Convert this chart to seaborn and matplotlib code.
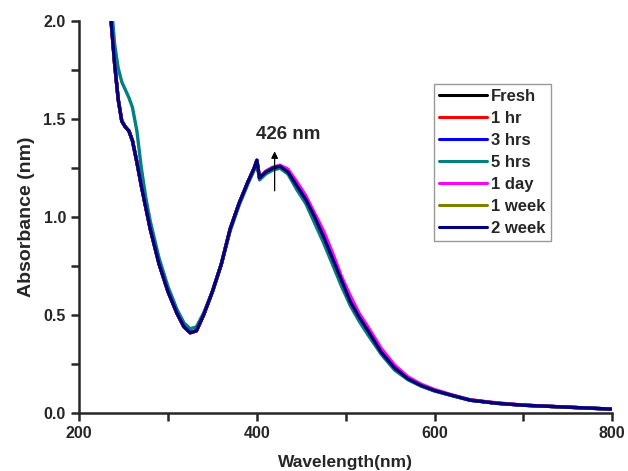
import numpy as np
import pandas as pd
import seaborn as sns
import matplotlib.pyplot as plt
from matplotlib.ticker import MultipleLocator

# wavelength grid (nm)
wavelength = [236, 240, 244, 248, 252, 256, 260, 265, 270, 275, 280, 290, 300, 310, 318,
              325, 332, 340, 350, 360, 370, 380, 390, 397, 400, 403, 410, 418, 426, 435,
              445, 455, 465, 475, 485, 495, 505, 515, 525, 540, 555, 570, 585, 600, 620,
              640, 670, 700, 750, 800]

fresh = [2.00, 1.78, 1.60, 1.49, 1.46, 1.44, 1.39, 1.28, 1.16, 1.05, 0.94, 0.76, 0.62, 0.51, 0.44,
         0.41, 0.42, 0.50, 0.62, 0.76, 0.94, 1.07, 1.18, 1.25, 1.29, 1.20, 1.23, 1.25, 1.26, 1.23,
         1.16, 1.09, 1.00, 0.90, 0.79, 0.68, 0.57, 0.49, 0.42, 0.31, 0.23, 0.175, 0.14, 0.115, 0.09,
         0.066, 0.05, 0.04, 0.03, 0.02]
hr_1 = [2.00, 1.78, 1.60, 1.49, 1.46, 1.44, 1.39, 1.28, 1.16, 1.05, 0.94, 0.76, 0.62, 0.51, 0.44,
        0.41, 0.42, 0.50, 0.62, 0.76, 0.94, 1.07, 1.18, 1.25, 1.29, 1.20, 1.23, 1.25, 1.26, 1.235,
        1.165, 1.095, 1.005, 0.905, 0.795, 0.685, 0.575, 0.495, 0.425, 0.315, 0.235, 0.178, 0.142, 0.117, 0.09,
        0.067, 0.051, 0.04, 0.03, 0.02]
hrs_3 = [2.00, 1.78, 1.60, 1.49, 1.46, 1.44, 1.39, 1.28, 1.16, 1.05, 0.94, 0.76, 0.62, 0.51, 0.44,
         0.41, 0.42, 0.50, 0.62, 0.76, 0.94, 1.07, 1.18, 1.25, 1.29, 1.20, 1.23, 1.25, 1.26, 1.23,
         1.16, 1.09, 1.00, 0.90, 0.79, 0.68, 0.57, 0.49, 0.42, 0.31, 0.23, 0.175, 0.14, 0.115, 0.09,
         0.066, 0.05, 0.04, 0.03, 0.02]
hrs_5 = [2.10, 1.88, 1.76, 1.69, 1.65, 1.61, 1.56, 1.44, 1.25, 1.10, 0.98, 0.79, 0.645, 0.53, 0.46,
         0.43, 0.44, 0.51, 0.62, 0.76, 0.93, 1.06, 1.17, 1.24, 1.28, 1.19, 1.22, 1.24, 1.25, 1.22,
         1.14, 1.07, 0.97, 0.87, 0.76, 0.65, 0.55, 0.47, 0.40, 0.30, 0.22, 0.17, 0.137, 0.112, 0.088,
         0.065, 0.05, 0.04, 0.03, 0.02]
day_1 = [2.00, 1.78, 1.60, 1.49, 1.46, 1.44, 1.39, 1.28, 1.16, 1.05, 0.94, 0.76, 0.62, 0.51, 0.44,
         0.41, 0.42, 0.50, 0.62, 0.76, 0.94, 1.07, 1.18, 1.25, 1.29, 1.20, 1.235, 1.255, 1.265, 1.245,
         1.18, 1.11, 1.02, 0.93, 0.82, 0.70, 0.60, 0.51, 0.44, 0.33, 0.245, 0.185, 0.147, 0.12, 0.092,
         0.068, 0.052, 0.041, 0.03, 0.02]
week_1 = [2.00, 1.78, 1.60, 1.49, 1.46, 1.44, 1.39, 1.28, 1.16, 1.05, 0.94, 0.76, 0.62, 0.51, 0.44,
          0.41, 0.42, 0.50, 0.62, 0.76, 0.94, 1.07, 1.18, 1.25, 1.29, 1.20, 1.23, 1.25, 1.26, 1.23,
          1.16, 1.09, 1.00, 0.90, 0.79, 0.68, 0.57, 0.49, 0.42, 0.31, 0.23, 0.175, 0.14, 0.115, 0.09,
          0.066, 0.05, 0.04, 0.03, 0.02]
week_2 = [2.00, 1.78, 1.60, 1.49, 1.46, 1.44, 1.39, 1.28, 1.16, 1.05, 0.94, 0.76, 0.62, 0.51, 0.44,
          0.41, 0.42, 0.50, 0.62, 0.76, 0.94, 1.07, 1.18, 1.25, 1.29, 1.20, 1.23, 1.25, 1.26, 1.23,
          1.16, 1.09, 1.00, 0.90, 0.79, 0.68, 0.57, 0.49, 0.42, 0.31, 0.23, 0.175, 0.14, 0.115, 0.09,
          0.066, 0.05, 0.04, 0.03, 0.02]

labels = ['Fresh', '1 hr', '3 hrs', '5 hrs', '1 day', '1 week', '2 week']
colors = ['black', 'red', 'blue', '#008080', 'magenta', '#808000', '#000080']
series = [fresh, hr_1, hrs_3, hrs_5, day_1, week_1, week_2]

frames = []
for lab, vals in zip(labels, series):
    frames.append(pd.DataFrame({'Wavelength': wavelength, 'Absorbance': vals, 'Sample': lab}))
df = pd.concat(frames, ignore_index=True)

sns.set_style('ticks')
plt.rcParams['font.family'] = ['Liberation Sans', 'DejaVu Sans']
plt.rcParams['font.weight'] = 'bold'

fig = plt.figure(figsize=(6.28, 4.71), dpi=100)
ax = fig.add_axes([0.126, 0.123, 0.849, 0.832])

sns.lineplot(data=df, x='Wavelength', y='Absorbance', hue='Sample', hue_order=labels,
             palette=dict(zip(labels, colors)), sort=False, linewidth=2.4, ax=ax)

ax.set_xlim(200, 800)
ax.set_ylim(0, 2.0)
ax.xaxis.set_major_locator(MultipleLocator(200))
ax.xaxis.set_minor_locator(MultipleLocator(100))
ax.yaxis.set_major_locator(MultipleLocator(0.5))
ax.yaxis.set_minor_locator(MultipleLocator(0.25))
ax.yaxis.set_major_formatter(plt.FormatStrFormatter('%.1f'))
ax.tick_params(which='both', direction='out', length=6, width=1.8, labelsize=11.5)
for s in ['left', 'bottom']:
    ax.spines[s].set_linewidth(1.8)
sns.despine(ax=ax)

ax.set_xlabel('Wavelength(nm)', fontsize=12.5, fontweight='bold', labelpad=10)
ax.set_ylabel('Absorbance (nm)', fontsize=14, fontweight='bold', labelpad=6)

ax.annotate('', xy=(420, 1.35), xytext=(420, 1.12),
            arrowprops=dict(arrowstyle='-|>', color='black', lw=0.9, mutation_scale=10))
ax.text(435, 1.38, '426 nm', ha='center', va='bottom', fontsize=13.5, fontweight='bold')

leg = ax.legend(loc='upper left', bbox_to_anchor=(0.665, 0.84), frameon=True, fancybox=False,
                fontsize=12, handlelength=2.9, handletextpad=0.25, labelspacing=0.42,
                borderpad=0.3, borderaxespad=0)
leg.get_frame().set_edgecolor('gray')
leg.get_frame().set_linewidth(1.0)
for t in leg.get_texts():
    t.set_fontweight('bold')
for l in leg.get_lines():
    l.set_linewidth(2.2)

fig.savefig('out.png', dpi=100)
